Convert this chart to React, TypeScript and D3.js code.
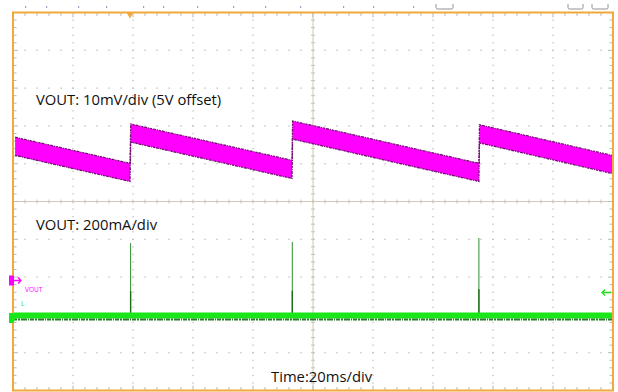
import React from "react";
import * as d3 from "d3";

// Scope screen: 10 horizontal divisions x 10 vertical divisions
const W = 618;
const H = 392;
const frame = { left: 13, top: 12.5, right: 613, bottom: 390.5 };
const hDivs = 10;
const vDivs = 10;

// Time axis in ms (20 ms/div), centred on the trigger point
const timeDomain = [-100, 100];

// CH1: output voltage ripple, mV around the 5 V offset (10 mV/div)
const voutTimes = [-99.3, -61.0, -60.75, -7.0, -6.8, 55.3, 55.5, 99.7];
const voutCenter = [14.6, 7.7, 18.1, 8.5, 18.9, 7.7, 17.9, 9.8];
const voutRipplePP = 4.8;

// CH2: inductor current pulses, mA (200 mA/div)
const pulseTimes = [-60.8, -6.9, 55.3];
const pulsePeaks = [391, 397, 418];
const currentTimes = [-100, 100];
const currentBase = [0, 0];

// Labels
const labelVout = "VOUT: 10mV/div (5V offset)";
const labelCurrent = "VOUT: 200mA/div";
const labelTime = "Time:20ms/div";

// Little status marks above the screen
const topDotsX = [25, 46, 78, 106, 143, 163, 197, 233, 265, 300, 343, 373, 413];

const ORANGE = "#f2a93b";
const MAGENTA = "#ff00ff";
const GREEN = "#19e619";

export default function App() {
  const x = d3.scaleLinear().domain(timeDomain).range([frame.left, frame.right]);
  const yV = d3.scaleLinear().domain([-50, 50]).range([frame.bottom, frame.top]);
  const iZero = 317;
  const divH = (frame.bottom - frame.top) / vDivs;
  const yI = d3.scaleLinear().domain([0, 200]).range([iZero, iZero - divH]);

  const divW = (frame.right - frame.left) / hDivs;
  const cx = frame.left + divW * 5;
  const cy = frame.top + divH * 5;

  // grid dots
  const dots: JSX.Element[] = [];
  for (let i = 1; i < hDivs; i++) {
    if (i === 5) continue;
    const gx = frame.left + i * divW;
    for (let k = 1; k < vDivs * 5; k++) {
      const gy = frame.top + (k * divH) / 5;
      dots.push(<rect key={`v${i}-${k}`} x={gx - 0.6} y={gy - 0.6} width={1.3} height={1.3} fill="#bdbdbd" />);
    }
  }
  for (let j = 1; j < vDivs; j++) {
    if (j === 5) continue;
    const gy = frame.top + j * divH;
    for (let k = 1; k < hDivs * 5; k++) {
      const gx = frame.left + (k * divW) / 5;
      dots.push(<rect key={`h${j}-${k}`} x={gx - 0.6} y={gy - 0.6} width={1.3} height={1.3} fill="#bdbdbd" />);
    }
  }

  // edge + centre ticks
  const ticks: JSX.Element[] = [];
  for (let k = 1; k < hDivs * 5; k++) {
    const tx = frame.left + (k * divW) / 5;
    const major = k % 5 === 0;
    const len = major ? 5 : 3.5;
    ticks.push(<line key={`tt${k}`} x1={tx} x2={tx} y1={frame.top} y2={frame.top + len} stroke="#b8b8b8" strokeWidth={1} />);
    ticks.push(<line key={`tb${k}`} x1={tx} x2={tx} y1={frame.bottom} y2={frame.bottom - len} stroke="#b8b8b8" strokeWidth={1} />);
    ticks.push(<line key={`tc${k}`} x1={tx} x2={tx} y1={cy - 2} y2={cy + 2} stroke="#c9c2b2" strokeWidth={1} />);
  }
  for (let k = 1; k < vDivs * 5; k++) {
    const ty = frame.top + (k * divH) / 5;
    const major = k % 5 === 0;
    const len = major ? 5 : 3.5;
    ticks.push(<line key={`tl${k}`} x1={frame.left} x2={frame.left + len} y1={ty} y2={ty} stroke="#b8b8b8" strokeWidth={1} />);
    ticks.push(<line key={`tr${k}`} x1={frame.right} x2={frame.right - len} y1={ty} y2={ty} stroke="#b8b8b8" strokeWidth={1} />);
    ticks.push(<line key={`tcv${k}`} x1={cx - 2} x2={cx + 2} y1={ty} y2={ty} stroke="#c9c2b2" strokeWidth={1} />);
  }

  // voltage ripple band
  const voutPts = voutTimes.map((t, i) => ({ t, v: voutCenter[i] }));
  const band = d3
    .area<{ t: number; v: number }>()
    .x((d) => x(d.t))
    .y0((d) => yV(d.v - voutRipplePP / 2))
    .y1((d) => yV(d.v + voutRipplePP / 2))(voutPts);
  const upper = d3
    .line<{ t: number; v: number }>()
    .x((d) => x(d.t))
    .y((d) => yV(d.v + voutRipplePP / 2))(voutPts);
  const lower = d3
    .line<{ t: number; v: number }>()
    .x((d) => x(d.t))
    .y((d) => yV(d.v - voutRipplePP / 2))(voutPts);

  const baseLine = d3
    .line<number>()
    .x((_, i) => x(currentTimes[i]))
    .y((d) => yI(d))(currentBase);

  const font = "'Open Sans', 'Liberation Sans', sans-serif";

  return (
    <svg width={W} height={H} style={{ position: "absolute", left: 0, top: 0, background: "#fff" }}>
      <rect x={0} y={0} width={W} height={H} fill="#fff" />
      {/* status marks */}
      {topDotsX.map((d, i) => (
        <rect key={i} x={d} y={6} width={1.2} height={2} fill="#9aa0c0" />
      ))}
      <path d="M436,4 v3.5 q0,1.5 1.5,1.5 h14 q1.5,0 1.5,-1.5 v-3.5" fill="none" stroke="#909090" strokeWidth={1} />
      <path d="M568,4 v3.5 q0,1.5 1.5,1.5 h12 q1.5,0 1.5,-1.5 v-3.5" fill="none" stroke="#909090" strokeWidth={1} />
      <path d="M592,4 v3.5 q0,1.5 1.5,1.5 h13 q1.5,0 1.5,-1.5 v-3.5" fill="none" stroke="#909090" strokeWidth={1} />

      {dots}
      {/* centre axes */}
      <line x1={frame.left} x2={frame.right} y1={cy} y2={cy} stroke="#cfc8b8" strokeWidth={1} />
      <line x1={cx} x2={cx} y1={frame.top} y2={frame.bottom} stroke="#cfc8b8" strokeWidth={1} />
      {ticks}

      {/* CH1 ripple */}
      <path d={band ?? ""} fill={MAGENTA} />
      <path d={upper ?? ""} fill="none" stroke="#6e106e" strokeWidth={1.3} strokeDasharray="3 1 1 1 2 1" />
      <path d={lower ?? ""} fill="none" stroke="#6e106e" strokeWidth={1.3} strokeDasharray="2 1 3 1 1 1" />

      {/* CH2 current */}
      {pulseTimes.map((t, i) => (
        <g key={i}>
          <line x1={x(t)} x2={x(t)} y1={yI(0)} y2={yI(pulsePeaks[i])} stroke="#2f8f2f" strokeWidth={1} />
          <line x1={x(t)} x2={x(t)} y1={yI(0)} y2={yI(pulsePeaks[i] * 0.35)} stroke="#1e6e1e" strokeWidth={1.4} />
        </g>
      ))}
      <path d={baseLine ?? ""} fill="none" stroke={GREEN} strokeWidth={6} transform="translate(0,-1.5)" />
      <path d={baseLine ?? ""} fill="none" stroke="#2a7a2a" strokeWidth={1.8} strokeDasharray="4 1 2 1 6 1 1 1" transform="translate(0,2.5)" />

      {/* frame */}
      <rect x={frame.left} y={frame.top} width={frame.right - frame.left} height={frame.bottom - frame.top} fill="none" stroke={ORANGE} strokeWidth={2} />

      {/* trigger marker */}
      <path d={`M${x(-61) - 3.5},${frame.top} h7 l-3.5,6 z`} fill={ORANGE} />

      {/* channel markers */}
      <rect x={9} y={275.5} width={5} height={10} fill={MAGENTA} />
      <path d="M14,280.5 h7 M18,277.5 l3,3 l-3,3" stroke={MAGENTA} strokeWidth={1.3} fill="none" />
      <text x={25} y={292} fontSize={6.5} fill={MAGENTA} fontFamily={font}>VOUT</text>
      <text x={21} y={306} fontSize={6.5} fill={GREEN} fontFamily={font}>L</text>
      <path d="M9,313 h4 l3,5 l-3,5 h-4 z" fill={GREEN} />
      <path d="M611,292.5 h-9 M605,289.5 l-3,3 l3,3" stroke={GREEN} strokeWidth={1.3} fill="none" />

      {/* labels */}
      <text x={36} y={104.5} fontSize={14.8} fill="#111" fontFamily={font}>{labelVout}</text>
      <text x={36} y={229.5} fontSize={14.8} fill="#111" fontFamily={font}>{labelCurrent}</text>
      <text x={271} y={381.5} fontSize={14.8} fill="#111" fontFamily={font}>{labelTime}</text>
    </svg>
  );
}
